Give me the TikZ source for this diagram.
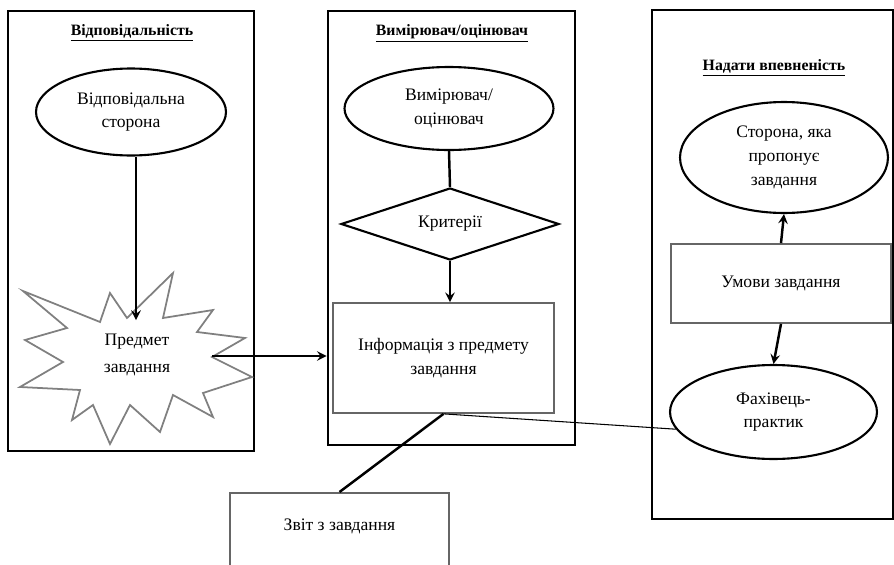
\documentclass[tikz,border=0pt]{standalone}
\usepackage{fontspec}
\setmainfont{Liberation Serif}
\usetikzlibrary{shapes.geometric, arrows}
\tikzstyle{panel} = [rectangle, draw=black, line width=1.5pt]
\tikzstyle{oval} = [ellipse, draw=black, line width=1.2pt, align=center, inner sep=0pt]
\tikzstyle{rhomb} = [diamond, draw=black, line width=1.2pt, aspect=3, inner sep=0pt]
\tikzstyle{box} = [rectangle, draw=black!60, line width=1pt, align=center]
\tikzstyle{head} = [font=\bfseries\fontsize{9}{10}\selectfont]
\tikzstyle{arrow} = [line width=1.4pt,->,>=stealth]
\tikzstyle{link} = [line width=1.4pt]

\begin{document}
\begin{tikzpicture}[x=0.02cm, y=-0.02cm, every node/.style={font=\fontsize{10}{13.5}\selectfont}]
\useasboundingbox (0,0) rectangle (894,565);
%Panels
\node[panel, minimum width=4.92cm, minimum height=8.8cm] (p1) at (131,231) {};
\node[panel, minimum width=4.94cm, minimum height=8.68cm] (p2) at (451.5,228) {};
\node[panel, minimum width=4.82cm, minimum height=10.18cm] (p3) at (772.5,264.5) {};
\node[head] (h1) at (132,33) {\underline{Відповідальність}};
\node[head] (h2) at (452,33) {\underline{Вимірювач/оцінювач}};
\node[head] (h3) at (774,68) {\underline{Надати впевненість}};

%Left column
\node[oval, minimum width=3.8cm, minimum height=1.74cm] (resp) at (131,112) {Відповідальна\\сторона};
\draw[draw=black!50, line width=1pt, fill=white] (23,291) -- (100,322) -- (110,293) -- (127,318)
  -- (173,273) -- (163,318) -- (213,310) -- (197,332) -- (245,338) -- (212,357) -- (252,377)
  -- (203,393) -- (213,417) -- (173,395) -- (160,432) -- (130,405) -- (110,444) -- (93,405)
  -- (72,420) -- (80,390) -- (20,387) -- (63,362) -- (25,340) -- (67,328) -- cycle;
\coordinate (startop) at (136,320);
\coordinate (starR) at (212,356);
\node[align=center] (predmet) at (137,355) {Предмет\\[2pt]завдання};
\draw[arrow] (resp.south -| startop) -- (startop);
\draw[arrow] (starR) -- (starR -| p2.west);

%Middle column
\node[oval, minimum width=4.18cm, minimum height=1.66cm] (vymir) at (449,108.5) {Вимірювач/\\оцінювач};
\node[rhomb, minimum width=4.36cm, minimum height=1.44cm] (krit) at (450,224) {Критерії};
\node[box, minimum width=4.42cm, minimum height=2.2cm] (info) at (443.5,358) {Інформація з предмету\\завдання};
\draw[link] (vymir.south) -- (krit.north);
\draw[arrow] (krit.south) -- (krit.south |- info.north);

%Report
\node[box, anchor=north, minimum width=4.38cm, minimum height=2.4cm] (zvit) at (339.5,492) {};
\node (zvittext) at (339.5,526) {Звіт з завдання};
\draw[link] (info.south) -- (zvit.north);

%Right column
\node[oval, minimum width=4.16cm, minimum height=2.22cm] (storona) at (784,157.5) {Сторона, яка\\пропонує\\завдання};
\node[box, minimum width=4.4cm, minimum height=1.58cm] (umovy) at (781,283.5) {Умови завдання};
\node[oval, minimum width=4.14cm, minimum height=1.88cm] (fakh) at (773.5,412) {Фахівець-\\практик};
\draw[arrow] (umovy.north) -- (storona.south);
\draw[arrow] (umovy.south) -- (fakh.north);
\draw[line width=0.6pt] (info.south) -- (fakh.190);
\end{tikzpicture}
\end{document}
